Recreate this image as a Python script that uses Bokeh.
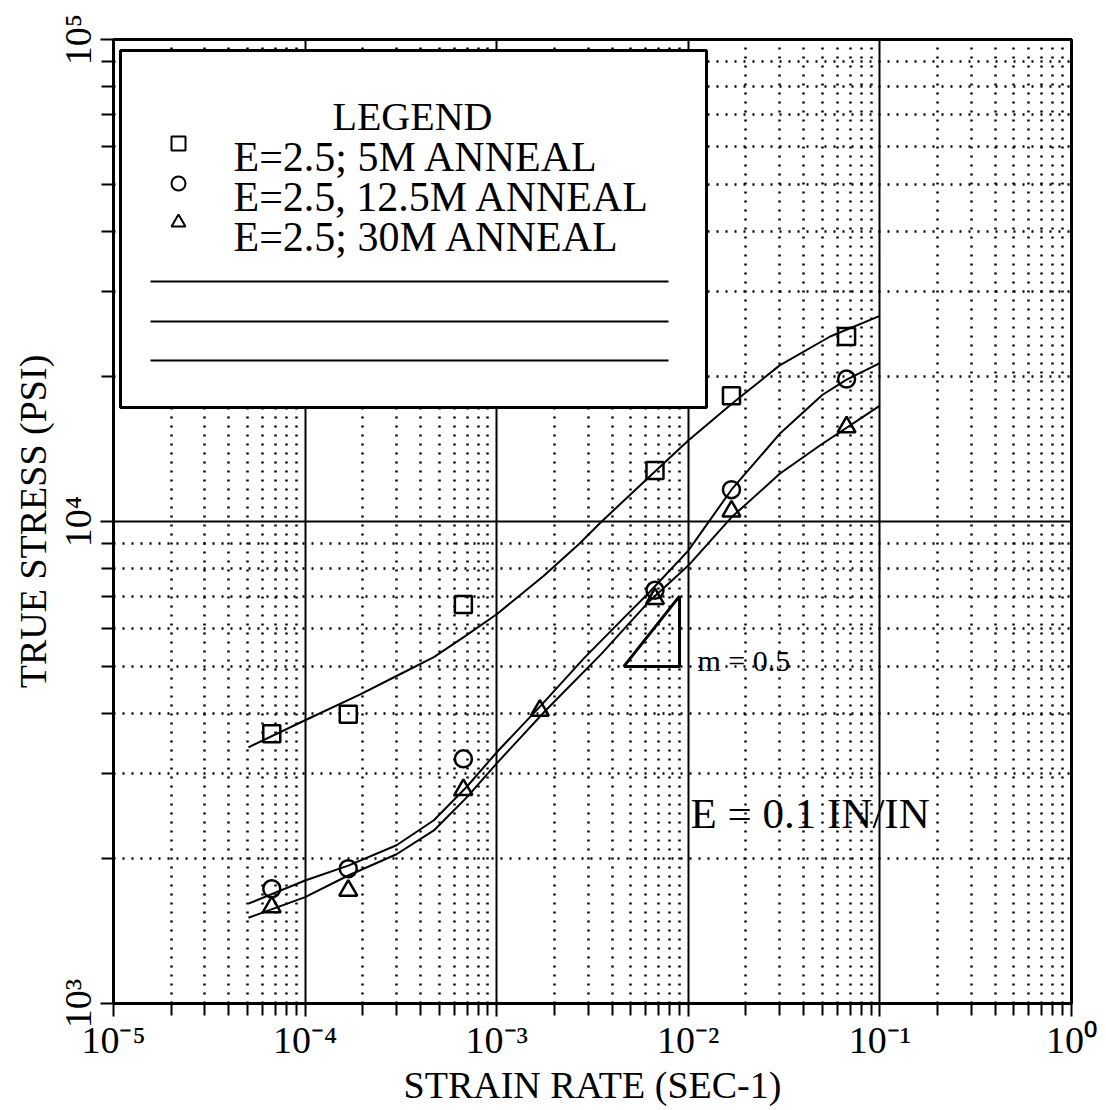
import math
from bokeh.plotting import figure
from bokeh.models import Range1d, FixedTicker, Label
from bokeh.core.properties import value
from bokeh.embed import file_html
from bokeh.resources import INLINE

# ---------------- data ----------------
x_ticks = [1e-5, 1e-4, 1e-3, 1e-2, 1e-1, 1e0]
x_tick_labels = ["10\u207b\u2075", "10\u207b\u2074", "10\u207b\u00b3", "10\u207b\u00b2", "10\u207b\u00b9", "10\u2070"]
y_ticks = [1e3, 1e4, 1e5]
y_tick_labels = ["10\u00b3", "10\u2074", "10\u2075"]

series_names = ["E=2.5; 5M ANNEAL", "E=2.5, 12.5M ANNEAL", "E=2.5; 30M ANNEAL"]

sq_x = [6.7e-5, 1.68e-4, 6.7e-4, 6.7e-3, 1.68e-2, 6.7e-2]
sq_y = [3630, 3980, 6730, 12760, 18240, 24200]
ci_x = [6.7e-5, 1.68e-4, 6.7e-4, 6.7e-3, 1.68e-2, 6.7e-2]
ci_y = [1730, 1904, 3219, 7200, 11640, 19750]
tr_x = [6.7e-5, 1.68e-4, 6.7e-4, 1.68e-3, 6.7e-3, 1.68e-2, 6.7e-2]
tr_y = [1585, 1716, 2776, 4055, 6913, 10505, 15700]

# hand-drawn fit curves
sq_fit_x = [5.06e-5, 1.0e-4, 1.94e-4, 3.0e-4, 4.7e-4, 7.0e-4, 1.0e-3, 1.75e-3, 2.7e-3, 3.53e-3, 6.7e-3, 1.0e-2, 1.7e-2, 3.0e-2, 5.5e-2, 1.0e-1]
sq_fit_y = [3400, 3870, 4380, 4780, 5230, 5820, 6420, 7700, 8990, 10000, 12700, 14720, 17600, 21080, 24200, 26700]
ci_fit_x = [5.06e-5, 1.0e-4, 1.68e-4, 3.0e-4, 4.7e-4, 7.0e-4, 1.0e-3, 1.7e-3, 2.85e-3, 4.5e-3, 6.3e-3, 1.0e-2, 1.68e-2, 3.0e-2, 5.0e-2, 6.7e-2, 1.0e-1]
ci_fit_y = [1611, 1800, 1932, 2130, 2400, 2820, 3320, 4150, 5200, 6250, 7150, 8700, 11640, 15200, 18300, 19700, 21300]
tr_fit_x = [5.06e-5, 1.0e-4, 1.68e-4, 3.0e-4, 4.7e-4, 7.0e-4, 1.0e-3, 1.8e-3, 3.5e-3, 6.3e-3, 1.0e-2, 1.68e-2, 3.0e-2, 4.86e-2, 1.0e-1]
tr_fit_y = [1506, 1662, 1843, 2040, 2286, 2680, 3150, 4055, 5300, 6850, 8100, 10200, 12560, 14380, 17400]

# slope triangle (m = 0.5)
slope_x = [4.6e-3, 9.0e-3, 9.0e-3, 4.6e-3]
slope_y = [5000, 5000, 7000, 5000]

# ---------------- layout helpers ----------------
L, R, T, B = 113, 1071, 39, 1003
DEC_X = (R - L) / 5.0
DEC_Y = (B - T) / 2.0


def dx(px):
    return 10 ** (-5 + (px - L) / DEC_X)


def dy(py):
    return 10 ** (3 + (B - py) / DEC_Y)


FONT = "Liberation Serif"

p = figure(
    x_axis_type="log", y_axis_type="log",
    x_range=Range1d(1e-5, 1.0), y_range=Range1d(1e3, 1e5),
    frame_width=R - L, frame_height=B - T,
    min_border_left=L, min_border_right=1106 - R,
    min_border_top=T, min_border_bottom=1110 - B,
    output_backend="svg", toolbar_location=None,
    background_fill_color="white", border_fill_color="white",
)
p.outline_line_color = "black"
p.outline_line_width = 3

minor_x = [m * 10 ** e for e in range(-5, 0) for m in range(2, 10)]
minor_y = [m * 10 ** e for e in range(3, 5) for m in range(2, 10)]
p.xaxis.ticker = FixedTicker(ticks=x_ticks, minor_ticks=minor_x)
p.yaxis.ticker = FixedTicker(ticks=y_ticks, minor_ticks=minor_y)
p.xgrid.ticker = p.xaxis.ticker
p.ygrid.ticker = p.yaxis.ticker
p.xaxis.major_label_overrides = dict(zip(x_ticks, x_tick_labels))
p.yaxis.major_label_overrides = dict(zip(y_ticks, y_tick_labels))

p.xaxis.axis_label = "STRAIN RATE (SEC-1)"
p.yaxis.axis_label = "TRUE STRESS (PSI)"
p.yaxis.major_label_orientation = "vertical"

for ax in (p.xaxis[0], p.yaxis[0]):
    ax.axis_line_width = 3
    ax.axis_line_color = "black"
    ax.major_tick_in = 0
    ax.major_tick_out = 13
    ax.minor_tick_in = 0
    ax.minor_tick_out = 12
    ax.major_tick_line_width = 2
    ax.minor_tick_line_width = 2
    ax.major_tick_line_color = "black"
    ax.minor_tick_line_color = "black"
    ax.major_label_text_font = FONT
    ax.major_label_text_font_size = "38px"
    ax.major_label_text_color = "black"
    ax.major_label_standoff = 2
    ax.axis_label_text_font = FONT
    ax.axis_label_text_font_size = "38px"
    ax.axis_label_text_font_style = "normal"
    ax.axis_label_text_color = "black"
    ax.axis_label_standoff = 0

for g in (p.xgrid[0], p.ygrid[0]):
    g.grid_line_color = "black"
    g.grid_line_width = 2
    g.grid_line_alpha = 1.0
    g.minor_grid_line_color = "black"
    g.minor_grid_line_width = 2.5
    g.minor_grid_line_dash = "2 7"

# ---------------- curves & markers ----------------
LW = 2
p.line(sq_fit_x, sq_fit_y, line_color="black", line_width=LW)
p.line(ci_fit_x, ci_fit_y, line_color="black", line_width=LW)
p.line(tr_fit_x, tr_fit_y, line_color="black", line_width=LW)

p.scatter(sq_x, sq_y, marker="square", size=17, fill_color=None, line_color="black", line_width=2.5)
p.scatter(ci_x, ci_y, marker="circle", size=17, fill_color=None, line_color="black", line_width=2.5)
p.scatter(tr_x, tr_y, marker="triangle", size=18, fill_color=None, line_color="black", line_width=2.5)

p.line(slope_x, slope_y, line_color="black", line_width=3)

# ---------------- legend box ----------------
p.quad(left=[dx(120)], right=[dx(706)], top=[dy(50)], bottom=[dy(407)],
       fill_color="white", line_color="black", line_width=3)
for yy in (281, 321, 360):
    p.segment(x0=[dx(150)], x1=[dx(668)], y0=[dy(yy)], y1=[dy(yy)],
              line_color="black", line_width=2)

p.text(x=[dx(332)], y=[dy(116)], text=["LEGEND"], text_font=value(FONT),
       text_font_size="40px", text_baseline="alphabetic", text_align="left", text_color="black")
row_base = [156, 196, 236]
marker_cy = [143, 183, 222]
markers = ["square", "circle", "triangle"]
for name, yb, ym, mk in zip(series_names, row_base, marker_cy, markers):
    p.text(x=[dx(233)], y=[dy(yb)], text=[name], text_font=value(FONT),
           text_font_size="42px", text_baseline="alphabetic", text_align="left", text_color="black")
    p.scatter([dx(178)], [dy(ym)], marker=mk, size=14, fill_color=None,
              line_color="black", line_width=2)

# ---------------- annotations ----------------
p.add_layout(Label(x=dx(697), y=dy(660), text="m = 0.5", text_font=FONT,
                   text_font_size="30px", text_baseline="alphabetic", text_color="black"))
p.add_layout(Label(x=dx(690), y=dy(813), text="E = 0.1 IN/IN", text_font=FONT,
                   text_font_size="43px", text_baseline="alphabetic", text_color="black"))

open("out.html", "w").write(file_html(p, INLINE))
